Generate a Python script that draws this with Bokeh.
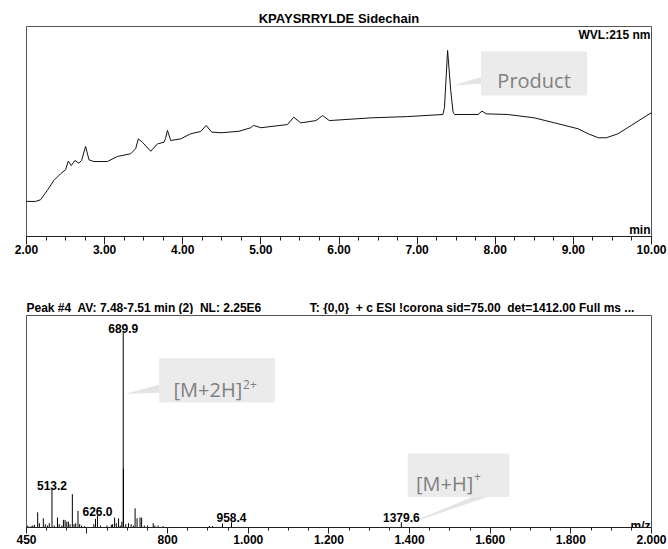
from bokeh.plotting import figure
from bokeh.models import ColumnDataSource, FixedTicker, Label, Range1d, Title
from bokeh.layouts import column
from bokeh.embed import file_html
from bokeh.resources import INLINE
from bokeh.core.properties import value

# ---------------- data: UV chromatogram (WVL 215 nm) ----------------
uv_time = [2.00, 2.115, 2.18, 2.265, 2.35, 2.436, 2.50, 2.535, 2.573, 2.62,
           2.67, 2.705, 2.756, 2.80, 2.863, 3.035, 3.163, 3.333, 3.397, 3.432,
           3.483, 3.59, 3.676, 3.76, 3.78, 3.804, 3.846, 3.974, 4.10, 4.23,
           4.30, 4.37, 4.49, 4.72, 4.87, 4.906, 5.00, 5.34, 5.42, 5.51,
           5.705, 5.79, 5.876, 6.41, 6.88, 7.33, 7.35, 7.39, 7.43, 7.46,
           7.48, 7.78, 7.83, 7.885, 8.16, 8.50, 8.76, 9.06, 9.19, 9.32,
           9.42, 9.57, 9.74, 10.00]
uv_signal = [16.7, 16.7, 17.5, 21.9, 26.7, 29.9, 31.8, 35.9, 33.8, 36.2,
             34.9, 36.2, 42.9, 36.5, 35.7, 35.7, 38.1, 39.4, 41.8, 46.5,
             44.9, 40.6, 44.1, 44.9, 46.7, 50.5, 45.7, 46.5, 48.9, 50.0,
             52.9, 49.7, 49.4, 50.1, 51.8, 52.9, 51.8, 53.3, 56.8, 54.1,
             55.2, 57.6, 55.2, 56.5, 57.1, 58.1, 61.4, 88.6, 69.5, 59.2,
             58.1, 58.1, 59.7, 58.4, 58.1, 56.5, 54.1, 51.3, 48.9, 47.0,
             47.0, 48.9, 52.9, 59.0]
uv_tick_values = [2, 3, 4, 5, 6, 7, 8, 9, 10]
uv_tick_labels = ["2.00", "3.00", "4.00", "5.00", "6.00", "7.00", "8.00", "9.00", "10.00"]
uv_minor_ticks = [2.0, 2.25, 2.5, 2.75, 3.0, 3.25, 3.5, 3.75, 4.0, 4.25, 4.5, 4.75,
                  5.0, 5.25, 5.5, 5.75, 6.0, 6.25, 6.5, 6.75, 7.0, 7.25, 7.5, 7.75,
                  8.0, 8.25, 8.5, 8.75, 9.0, 9.25, 9.5, 9.75, 10.0]

# ---------------- data: mass spectrum (relative abundance) ----------------
ms_mz = [453.2, 461.5, 465.5, 469.6, 477.7, 481.9, 491.7, 496.6, 502.3, 506.5,
         513.2, 518.7, 526.8, 531.0, 537.6, 541.6, 545.7, 549.9, 553.8, 558.0,
         563.7, 567.8, 572.0, 577.7, 581.8, 586.7, 594.1, 616.9, 621.1, 626.0,
         633.4, 649.6, 660.4, 663.6, 668.5, 672.7, 678.3, 682.5, 686.4, 689.9,
         690.4, 696.2, 702.9, 709.5, 715.1, 719.3, 724.2, 731.6, 735.5, 742.1,
         750.2, 764.2, 768.4, 776.5, 788.8, 903.4, 911.5, 936.1, 958.4, 1379.6]
ms_rel = [1.0, 0.7, 1.0, 1.4, 7.8, 2.2, 4.7, 1.7, 1.0, 2.2,
          19.5, 1.0, 5.1, 1.7, 1.0, 3.9, 3.9, 3.0, 3.0, 1.7,
          17.1, 1.7, 2.2, 8.5, 1.7, 1.0, 0.7, 1.7, 4.4, 6.1,
          1.0, 1.0, 1.4, 1.7, 5.1, 2.2, 4.7, 1.0, 3.0, 100.0,
          30.1, 1.7, 2.2, 1.7, 1.0, 9.8, 4.7, 5.1, 5.1, 1.0,
          1.0, 2.2, 1.0, 1.0, 0.7, 0.8, 0.8, 2.0, 2.7, 2.7]
ms_labeled_mz = [513.2, 626.0, 689.9, 958.4, 1379.6]
ms_labeled_text = ["513.2", "626.0", "689.9", "958.4", "1379.6"]
ms_tick_values = [450, 600, 800, 1000, 1200, 1400, 1600, 1800, 2000]
ms_tick_labels = ["450", "", "800", "1.000", "1.200", "1.400", "1.600", "1.800", "2.000"]
ms_minor_ticks = [450, 500, 550, 600, 650, 700, 750, 800, 850, 900, 950, 1000,
                  1050, 1100, 1150, 1200, 1250, 1300, 1350, 1400, 1450, 1500,
                  1550, 1600, 1650, 1700, 1750, 1800, 1850, 1900, 1950, 2000]

# ---------------- texts ----------------
uv_title = "KPAYSRRYLDE Sidechain"
uv_wvl = "WVL:215 nm"
uv_unit = "min"
ms_head_left = "Peak #4\u00a0 AV: 7.48-7.51 min (2)\u00a0 NL: 2.25E6"
ms_head_right = "T: {0,0}\u00a0 + c ESI !corona sid=75.00\u00a0 det=1412.00 Full ms ..."
ms_unit = "m/z"

# ---------------- styles / annotation placement ----------------
FONT = "Liberation Sans"
NOTE_FONT = "Open Sans"
BOX_FILL = "#ebebeb"
WEDGE_FILL = "#e4e4e4"
NOTE_COLOR = "#808080"
W = 668

# Product callout (data coords of top plot)
prod_box = dict(left=7.817, right=9.176, bottom=67.1, top=88.1)
prod_wedge_x = [7.817, 7.817, 7.458]
prod_wedge_y = [75.9, 72.7, 71.9]
prod_text_xy = (8.497, 74.3)

# [M+2H]2+ callout (data coords of MS plot)
m2h_box = dict(left=779.0, right=1066.2, bottom=64.2, top=86.8)
m2h_wedge_x = [779.0, 779.0, 694.8]
m2h_wedge_y = [73.2, 69.1, 68.6]
m2h_text_xy = (985.0, 70.7)
m2h_sup_xy = (987.0, 73.6)

# [M+H]+ callout
mh_box = dict(left=1395.2, right=1647.3, bottom=15.6, top=38.0)
mh_wedge_x = [1555.5, 1592.3, 1383.6]
mh_wedge_y = [15.6, 15.6, 0.9]
mh_text_xy = (1558.0, 22.4)
mh_sup_xy = (1560.0, 26.0)

# header text anchors (m/z units of the spectrum x scale)
head_left_x = 450
head_right_x = 1957.4


def style_axis(ax, tick_vals, tick_labels, minor, major_out, minor_out, standoff):
    ax.ticker = FixedTicker(ticks=tick_vals, minor_ticks=minor)
    ax.major_label_overrides = {v: s for v, s in zip(tick_vals, tick_labels)}
    ax.axis_line_color = "#222222"
    ax.major_tick_line_color = "#222222"
    ax.minor_tick_line_color = "#222222"
    ax.major_tick_in = 0
    ax.minor_tick_in = 0
    ax.major_tick_out = major_out
    ax.minor_tick_out = minor_out
    ax.major_label_standoff = standoff
    ax.major_label_text_font = FONT
    ax.major_label_text_font_style = "bold"
    ax.major_label_text_font_size = "12px"
    ax.major_label_text_color = "#000000"


# ================= top: UV chromatogram =================
p1 = figure(width=W, height=296, x_range=Range1d(2, 10), y_range=Range1d(0, 100),
            output_backend="svg", toolbar_location=None, y_axis_location=None,
            min_border_left=26, min_border_right=17, min_border_top=26, min_border_bottom=60)
p1.title = Title(text=uv_title, align="center", offset=-4, standoff=1,
                 text_font=FONT, text_font_style="bold", text_font_size="13px",
                 text_color="#000000")
p1.grid.visible = False
p1.outline_line_color = "#555555"
style_axis(p1.xaxis[0], uv_tick_values, uv_tick_labels, uv_minor_ticks, 8, 4, 0)

p1.patch(x=prod_wedge_x, y=prod_wedge_y, fill_color=WEDGE_FILL, line_color=None)
p1.quad(left=[prod_box["left"]], right=[prod_box["right"]], bottom=[prod_box["bottom"]],
        top=[prod_box["top"]], fill_color=BOX_FILL, line_color=None)
p1.text(x=[prod_text_xy[0]], y=[prod_text_xy[1]], text=["Product"], text_align="center",
        text_baseline="alphabetic", text_font=value(NOTE_FONT), text_font_size="20px",
        text_color=NOTE_COLOR)

uv_src = ColumnDataSource(dict(t=uv_time, s=uv_signal))
p1.line("t", "s", source=uv_src, line_color="#111111", line_width=1)

p1.add_layout(Label(x=10, y=100, text=uv_wvl, text_align="right", text_baseline="top",
                    x_offset=-1, y_offset=-1, text_font=FONT, text_font_style="bold",
                    text_font_size="12px", text_color="#000000"))
p1.add_layout(Label(x=10, y=0, text=uv_unit, text_align="right", text_baseline="bottom",
                    x_offset=-1, y_offset=0, text_font=FONT, text_font_style="bold",
                    text_font_size="12px", text_color="#000000"))

# ================= header strip above the spectrum =================
ph = figure(width=W, height=18, x_range=Range1d(450, 2000), y_range=Range1d(0, 1),
            output_backend="svg", toolbar_location=None, x_axis_location=None,
            y_axis_location=None, min_border_left=22, min_border_right=14,
            min_border_top=0, min_border_bottom=0)
ph.grid.visible = False
ph.outline_line_color = None
ph.text(x=[head_left_x], y=[0], text=[ms_head_left], text_align="left", text_baseline="bottom",
        text_font=value(FONT), text_font_style="bold", text_font_size="12px",
        text_color="#000000")
ph.text(x=[head_right_x], y=[0], text=[ms_head_right], text_align="right",
        text_baseline="bottom", text_font=value(FONT), text_font_style="bold",
        text_font_size="12px", text_color="#000000")

# ================= bottom: mass spectrum =================
p2 = figure(width=W, height=235, x_range=Range1d(450, 2000), y_range=Range1d(0, 108.8),
            output_backend="svg", toolbar_location=None, y_axis_location=None,
            min_border_left=22, min_border_right=14, min_border_top=1, min_border_bottom=22)
p2.grid.visible = False
p2.outline_line_color = "#555555"
style_axis(p2.xaxis[0], ms_tick_values, ms_tick_labels, ms_minor_ticks, 6, 3, 1)

for bx, wx, wy in ((m2h_box, m2h_wedge_x, m2h_wedge_y), (mh_box, mh_wedge_x, mh_wedge_y)):
    p2.patch(x=wx, y=wy, fill_color=WEDGE_FILL, line_color=None)
    p2.quad(left=[bx["left"]], right=[bx["right"]], bottom=[bx["bottom"]], top=[bx["top"]],
            fill_color=BOX_FILL, line_color=None)

p2.text(x=[m2h_text_xy[0], mh_text_xy[0]], y=[m2h_text_xy[1], mh_text_xy[1]],
        text=["[M+2H]", "[M+H]"], text_align="right", text_baseline="alphabetic",
        text_font=value(NOTE_FONT), text_font_size="20px", text_color=NOTE_COLOR)
p2.text(x=[m2h_sup_xy[0], mh_sup_xy[0]], y=[m2h_sup_xy[1], mh_sup_xy[1]],
        text=["2+", "+"], text_align="left", text_baseline="alphabetic",
        text_font=value(NOTE_FONT), text_font_size="12px", text_color=NOTE_COLOR)

ms_src = ColumnDataSource(dict(mz=ms_mz, rel=ms_rel, base=[0] * len(ms_mz)))
p2.segment(x0="mz", y0="base", x1="mz", y1="rel", source=ms_src, line_color="#000000",
           line_width=1)

lab_y = [ms_rel[ms_mz.index(m)] for m in ms_labeled_mz]
lab_src = ColumnDataSource(dict(mz=ms_labeled_mz, rel=lab_y, txt=ms_labeled_text))
p2.text(x="mz", y="rel", text="txt", source=lab_src, text_align="center",
        text_baseline="bottom", text_font=value(FONT), text_font_style="bold",
        text_font_size="12px", text_color="#000000")

p2.add_layout(Label(x=2000, y=0, text=ms_unit, text_align="right", text_baseline="alphabetic",
                    x_offset=-1, y_offset=2, text_font=FONT, text_font_style="bold",
                    text_font_size="12px", text_color="#000000"))

layout = column(p1, ph, p2, spacing=0)
open("out.html", "w").write(file_html(layout, INLINE))
